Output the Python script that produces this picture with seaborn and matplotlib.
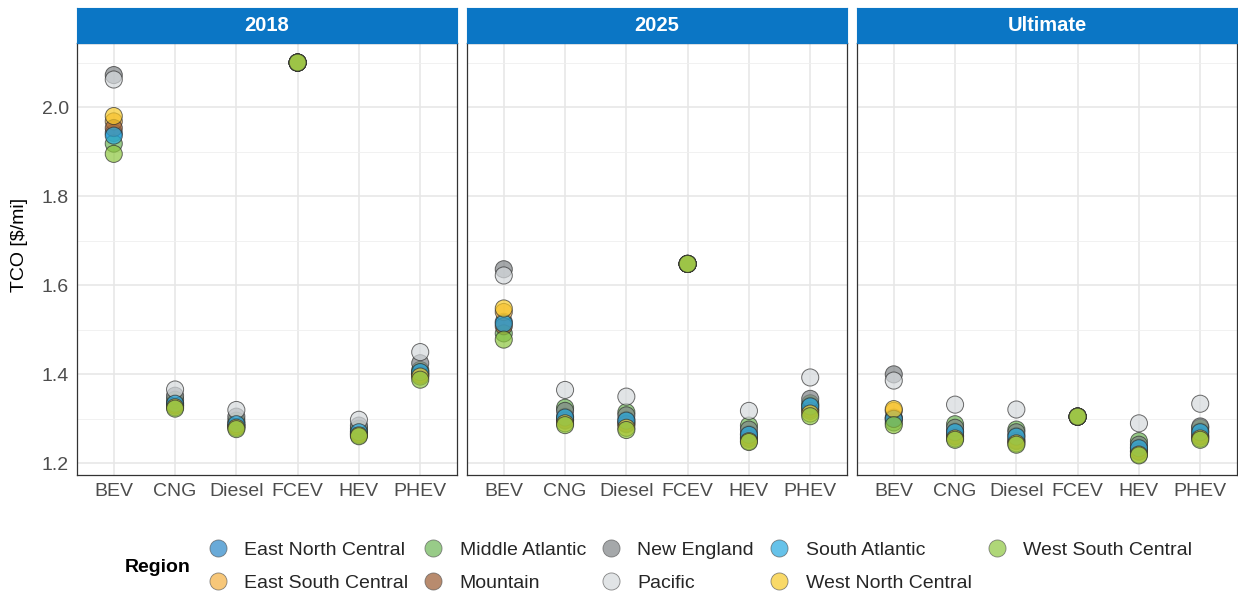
import numpy as np
import pandas as pd
import matplotlib
matplotlib.use("Agg")
import matplotlib.pyplot as plt
from matplotlib.lines import Line2D
from matplotlib.ticker import MultipleLocator, FormatStrFormatter
import seaborn as sns

# ---- data -------------------------------------------------------------
scenarios = ["2018", "2025", "Ultimate"]
fuels = ["BEV", "CNG", "Diesel", "FCEV", "HEV", "PHEV"]
regions = ["East North Central", "East South Central", "Middle Atlantic", "Mountain",
           "New England", "Pacific", "South Atlantic", "West North Central",
           "West South Central"]
region_colors = ["#2a86c8", "#f5b041", "#6db556", "#9a5a30", "#7f8487",
                 "#d5d9dc", "#25a9e0", "#f7c928", "#8dc63f"]

# TCO [$/mi] per fuel, values listed in the same order as `regions`
tco_2018 = {
    "BEV":    [1.942, 1.968, 1.918, 1.953, 2.072, 2.062, 1.936, 1.980, 1.895],
    "CNG":    [1.336, 1.330, 1.343, 1.330, 1.352, 1.366, 1.334, 1.326, 1.323],
    "Diesel": [1.290, 1.283, 1.296, 1.284, 1.305, 1.320, 1.288, 1.280, 1.277],
    "FCEV":   [2.100, 2.100, 2.100, 2.100, 2.100, 2.100, 2.100, 2.100, 2.100],
    "HEV":    [1.272, 1.266, 1.278, 1.266, 1.285, 1.298, 1.270, 1.263, 1.261],
    "PHEV":   [1.405, 1.400, 1.410, 1.398, 1.425, 1.450, 1.405, 1.395, 1.388],
}
tco_2025 = {
    "BEV":    [1.518, 1.540, 1.492, 1.508, 1.636, 1.622, 1.514, 1.548, 1.478],
    "CNG":    [1.305, 1.298, 1.325, 1.296, 1.318, 1.365, 1.303, 1.290, 1.286],
    "Diesel": [1.298, 1.290, 1.315, 1.288, 1.308, 1.350, 1.296, 1.280, 1.275],
    "FCEV":   [1.648, 1.648, 1.648, 1.648, 1.648, 1.648, 1.648, 1.648, 1.648],
    "HEV":    [1.266, 1.258, 1.285, 1.255, 1.276, 1.318, 1.264, 1.250, 1.248],
    "PHEV":   [1.330, 1.322, 1.335, 1.318, 1.345, 1.393, 1.328, 1.312, 1.306],
}
tco_ultimate = {
    "BEV":    [1.303, 1.318, 1.292, 1.300, 1.400, 1.386, 1.300, 1.322, 1.286],
    "CNG":    [1.272, 1.262, 1.288, 1.260, 1.280, 1.332, 1.270, 1.256, 1.253],
    "Diesel": [1.262, 1.252, 1.276, 1.250, 1.270, 1.321, 1.260, 1.245, 1.242],
    "FCEV":   [1.305, 1.305, 1.305, 1.305, 1.305, 1.305, 1.305, 1.305, 1.305],
    "HEV":    [1.236, 1.228, 1.250, 1.226, 1.242, 1.290, 1.234, 1.220, 1.218],
    "PHEV":   [1.272, 1.262, 1.280, 1.260, 1.283, 1.334, 1.270, 1.256, 1.253],
}
scenario_values = {"2018": tco_2018, "2025": tco_2025, "Ultimate": tco_ultimate}

rows = []
for sc in scenarios:
    for fuel in fuels:
        for reg, val in zip(regions, scenario_values[sc][fuel]):
            rows.append({"Scenario": sc, "Fuel": fuel, "Region": reg, "TCO": val})
df = pd.DataFrame(rows)

# ---- style ------------------------------------------------------------
sns.set_style("white")
plt.rcParams["font.family"] = ["Liberation Sans", "DejaVu Sans"]

palette = dict(zip(regions, region_colors))
strip_blue = "#0b76c5"
W, H = 1238, 597
FS = 14

fig = plt.figure(figsize=(W / 100, H / 100), dpi=100)

for i, sc in enumerate(scenarios):
    left = (77 + 390 * i) / W
    ax = fig.add_axes([left, 122 / H, 380 / W, 432 / H])
    sub = df[df["Scenario"] == sc]
    sns.stripplot(data=sub, x="Fuel", y="TCO", hue="Region", order=fuels,
                  hue_order=regions, palette=palette, jitter=False, dodge=False,
                  size=12.3, alpha=0.7, linewidth=0.7, edgecolor="#2e2e2e",
                  legend=False, ax=ax, zorder=3)
    ax.set_xlim(-0.6, 5.6)
    ax.set_ylim(1.174, 2.144)
    ax.yaxis.set_major_locator(MultipleLocator(0.2))
    ax.yaxis.set_minor_locator(MultipleLocator(0.1))
    ax.set_axisbelow(True)
    ax.grid(which="major", color="#e6e6e6", lw=1.1)
    ax.grid(which="minor", axis="y", color="#efefef", lw=0.6)
    ax.set_xlabel("")
    ax.set_ylabel("")
    for sp in ax.spines.values():
        sp.set_color("#333333")
        sp.set_linewidth(0.9)
        sp.set_visible(True)
    ax.tick_params(axis="both", which="major", length=4, width=0.8,
                   color="#333333", labelcolor="#4d4d4d", labelsize=FS, pad=2)
    ax.tick_params(axis="y", which="minor", length=0)
    if i > 0:
        ax.tick_params(axis="y", which="both", left=False, labelleft=False)
    else:
        ax.yaxis.set_major_formatter(FormatStrFormatter("%.1f"))

    strip = fig.add_axes([left, 554 / H, 380 / W, 35 / H])
    strip.set_facecolor(strip_blue)
    strip.set_xticks([])
    strip.set_yticks([])
    for sp in strip.spines.values():
        sp.set_color(strip_blue)
    strip.text(0.5, 0.5, sc, transform=strip.transAxes, ha="center", va="center",
               color="white", fontsize=FS + 0.5, fontweight="bold")

fig.text(20 / W, (H - 245) / H, "TCO [$/mi]", rotation=90, ha="center",
         va="center", fontsize=FS, color="black")

# ---- legend -----------------------------------------------------------
LFS = 14
handles = [Line2D([0], [0], marker="o", linestyle="", markersize=12.3,
                  markerfacecolor=c, markeredgecolor="#555555",
                  markeredgewidth=0.6, alpha=0.7)
           for c in region_colors]
fig.legend(handles, regions, loc="center left",
           bbox_to_anchor=(209 / W, (H - 566.5) / H), ncol=5, frameon=False,
           fontsize=LFS, handlelength=0.9, handletextpad=0.9,
           columnspacing=0.85, labelspacing=0.76, borderpad=0,
           borderaxespad=0)
fig.text(125 / W, (H - 567) / H, "Region", ha="left", va="center",
         fontsize=FS, fontweight="bold", color="black")

fig.savefig("out.png", dpi=100)
